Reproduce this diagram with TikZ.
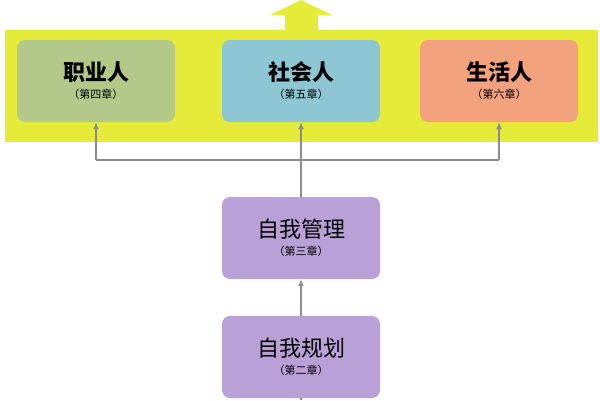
\documentclass[tikz,border=0pt]{standalone}
\usepackage{fontspec}
\newfontfamily\cjk{Noto Sans CJK SC}
\usetikzlibrary{positioning,arrows.meta}
\definecolor{bandyellow}{HTML}{E6EB3A}
\definecolor{boxgreen}{HTML}{B2C98A}
\definecolor{boxblue}{HTML}{8CC7D3}
\definecolor{boxorange}{HTML}{F2A27C}
\definecolor{boxpurple}{HTML}{B9A0D6}
\definecolor{linegray}{HTML}{8C8C8C}
\begin{document}
\begin{tikzpicture}[x=1pt,y=-1pt,
  rolebox/.style={rounded corners=8pt, minimum width=158pt, minimum height=82pt, align=center, inner sep=0pt},
  conn/.style={draw=linegray, line width=1.2pt, -{Latex[length=7pt,width=6pt]}}]
\useasboundingbox (0,0) rectangle (600,400);

% Band and top arrow
\fill[bandyellow] (5,30) rectangle (598,142);
\fill[bandyellow] (285,30) -- (285,15) -- (270,15) -- (301,0) -- (332,15) -- (318,15) -- (318,30) -- cycle;

% Roles
\node[rolebox, fill=boxgreen] (job) at (96,81) {\cjk\fontsize{22}{26}\selectfont\bfseries 职业人\\[6pt]\cjk\fontsize{11}{13}\selectfont （第四章）};
\node[rolebox, fill=boxblue] (social) at (301,81) {\cjk\fontsize{22}{26}\selectfont\bfseries 社会人\\[6pt]\cjk\fontsize{11}{13}\selectfont （第五章）};
\node[rolebox, fill=boxorange] (life) at (499,81) {\cjk\fontsize{22}{26}\selectfont\bfseries 生活人\\[6pt]\cjk\fontsize{11}{13}\selectfont （第六章）};

% Self
\node[rolebox, fill=boxpurple] (manage) at (301,238) {\cjk\fontsize{22}{26}\selectfont 自我管理\\[6pt]\cjk\fontsize{11}{13}\selectfont （第三章）};
\node[rolebox, fill=boxpurple] (plan) at (301,357) {\cjk\fontsize{22}{26}\selectfont 自我规划\\[6pt]\cjk\fontsize{11}{13}\selectfont （第二章）};

% Connectors
\coordinate (split) at (301,160);
\coordinate (bottom) at (301,400);
\draw[draw=linegray, line width=1.2pt] (job.south |- split) -- (life.south |- split);
\draw[conn] (job.south |- split) -- (job.south);
\draw[conn] (life.south |- split) -- (life.south);
\draw[conn] (manage.north) -- (social.south);
\draw[conn] (plan.north) -- (manage.south);
\draw[draw=linegray, line width=1.2pt] (plan.south) -- (bottom);

\end{tikzpicture}
\end{document}
